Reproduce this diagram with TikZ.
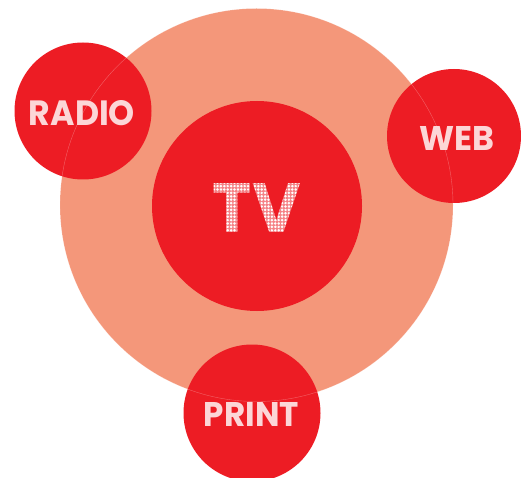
\documentclass[tikz,border=0pt]{standalone}
\usepackage{fontspec}
\newfontfamily\labelfont{Poppins}[UprightFont=* Bold]
\definecolor{salmon}{HTML}{F4977A}
\definecolor{mred}{HTML}{ED1C24}
\tikzset{
  disc/.style={circle, inner sep=0pt, outer sep=0pt},
  bigc/.style={disc, fill=salmon},
  mediac/.style={disc, fill=mred},
  lbl/.style={text=white!82!mred, inner sep=0pt, outer sep=0pt, font=\labelfont},
  tvlbl/.style={lbl, text=white},
  rim/.style={draw=white, opacity=0.3, line width=0.4pt},
}
\begin{document}
\begin{tikzpicture}[x=1pt,y=-1pt]
\useasboundingbox (0,0) rectangle (521,478);
% circles
\node[bigc, minimum size=393pt] (big) at (256.5,205) {};
\node[mediac, minimum size=210pt] (tv) at (257,206) {};
\node[mediac, minimum size=137pt] (radio) at (83,111) {};
\node[mediac, minimum size=134pt] (web) at (454,136) {};
\node[mediac, minimum size=137pt] (print) at (252,413) {};
% faint rim of the big circle
\draw[rim] (big.center) circle (196.5);
% labels
\node[tvlbl] (tvt) at (257,207.5) {\resizebox{88pt}{49pt}{TV}};
\node[lbl] (radiot) at (82,113.5) {\resizebox{106pt}{25pt}{RADIO}};
\node[lbl] (webt) at (456.5,139) {\resizebox{75pt}{24pt}{WEB}};
\node[lbl] (printt) at (251.5,414) {\resizebox{95pt}{24pt}{PRINT}};
% halftone dots on TV
\fill[mred, fill opacity=0.55, even odd rule] (208,180) rectangle (308,236)
  \foreach \i in {0,...,28}{ \foreach \j in {0,...,15}{ ({210.7+3.4*\i},{182.7+3.4*\j}) circle (1.6) } };
\end{tikzpicture}
\end{document}
